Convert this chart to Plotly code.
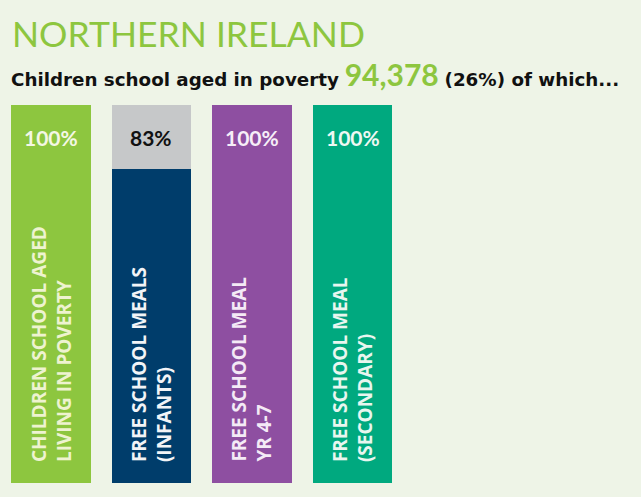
import plotly.graph_objects as go

categories = ["CHILDREN SCHOOL AGED<br>LIVING IN POVERTY",
              "FREE SCHOOL MEALS<br>(INFANTS)",
              "FREE SCHOOL MEAL<br>YR 4-7",
              "FREE SCHOOL MEAL<br>(SECONDARY)"]
values = [100, 83, 100, 100]
pct_labels = ["100%", "83%", "100%", "100%"]
bar_colors = ["#8dc63f", "#003d6b", "#8e4fa1", "#00a97f"]
label_colors = ["#f4f7e4", "#111111", "#f6eef8", "#eef8f3"]
cat_label_colors = ["#eef3d0", "#f2f4f7", "#f4eaf6", "#e8f6ef"]
remainder_color = "#c6c8c9"
title_text = "NORTHERN IRELAND"
headline_number = "94,378"
headline_share = "(26%)"

BG = "#eef4e7"
GREEN = "#8dc63f"

xs = list(range(len(categories)))
remainder = [100 - v for v in values]

fig = go.Figure()
fig.add_trace(go.Bar(x=xs, y=values, marker=dict(color=bar_colors, line=dict(width=0)),
                     width=0.79, hoverinfo="skip"))
fig.add_trace(go.Bar(x=xs, y=remainder, marker=dict(color=remainder_color, line=dict(width=0)),
                     width=0.79, hoverinfo="skip"))

# percentage labels
for i, (t, c) in enumerate(zip(pct_labels, label_colors)):
    fig.add_annotation(x=i, y=91.5, text=f"<b>{t}</b>", showarrow=False, xanchor="center", yanchor="middle",
                       font=dict(family="Lato", size=21, color=c))

# vertical category labels
for i, (cat, c) in enumerate(zip(categories, cat_label_colors)):
    fig.add_annotation(x=i, y=5.0, text=f"<b>{cat}</b>", showarrow=False, textangle=-90,
                       xanchor="center", yanchor="bottom", align="left",
                       font=dict(family="Open Sans", size=19, color=c))

def py(p):
    return (483 - p) / 378

fig.add_annotation(xref="paper", yref="paper", x=0.016, y=py(57), xanchor="left", yanchor="bottom",
                   text=title_text, showarrow=False,
                   font=dict(family="Lato", size=35.5, color=GREEN))
fig.add_annotation(xref="paper", yref="paper", x=0.014, y=py(94), xanchor="left", yanchor="bottom",
                   text=("<b>Children school aged in poverty</b> "
                         f"<span style='font-family:Lato;font-size:30px;color:{GREEN}'><b>{headline_number}</b></span>"
                         f" <b>{headline_share} of which...</b>"),
                   showarrow=False,
                   font=dict(family="DejaVu Sans", size=18.3, color="#111111"))

fig.update_layout(
    width=641, height=497,
    margin=dict(l=0, r=0, t=105, b=14),
    paper_bgcolor=BG, plot_bgcolor=BG,
    barmode="stack", showlegend=False,
    xaxis=dict(range=[-0.507, 5.87], visible=False, fixedrange=True),
    yaxis=dict(range=[0, 100], visible=False, fixedrange=True),
)

fig.write_html("out.html")
